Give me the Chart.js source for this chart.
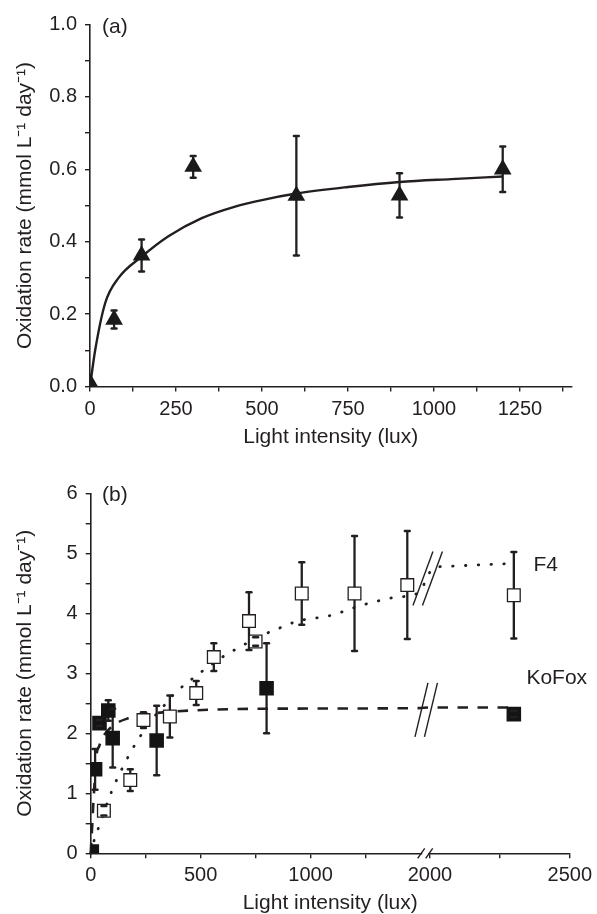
<!DOCTYPE html>
<html><head><meta charset="utf-8">
<script src="https://cdn.jsdelivr.net/npm/chart.js@4.4.0/dist/chart.umd.min.js"></script>
<style>
html,body{margin:0;padding:0;background:#fff;width:597px;height:914px;overflow:hidden}
canvas{position:absolute;left:0;display:block}
#ca{top:0}
#cb{top:457px}
</style></head><body>
<canvas id="ca" width="597" height="457"></canvas>
<canvas id="cb" width="597" height="457"></canvas>
<script>
// ---------- Panel (a) data ----------
const A_LUX  = [0, 70, 150, 300, 600, 900, 1200];
const A_RATE = [0.01, 0.185, 0.362, 0.607, 0.527, 0.528, 0.600];
const A_ERR  = [0, 0.025, 0.044, 0.030, 0.165, 0.061, 0.063];
const A_FIT_LUX  = [0, 15, 44, 83, 152, 228, 325, 422, 500, 600, 750, 900, 1050, 1200];
const A_FIT_RATE = [0, 0.10, 0.23, 0.30, 0.36, 0.415, 0.465, 0.497, 0.515, 0.533, 0.551, 0.565, 0.573, 0.58];
const A_X_TICKS   = [0, 125, 250, 375, 500, 625, 750, 875, 1000, 1125, 1250, 1375];
const A_X_LABELED = [0, 250, 500, 750, 1000, 1250];
const A_Y_TICKS   = [0, 0.1, 0.2, 0.3, 0.4, 0.5, 0.6, 0.7, 0.8, 0.9, 1.0];
const A_Y_LABELED = [0, 0.2, 0.4, 0.6, 0.8, 1.0];

// ---------- Panel (b) data ----------
const F4_LUX  = [60, 180, 240, 360, 480, 560, 720, 750, 960, 1200, 1440, 2300];
const F4_RATE = [0.71, 1.22, 2.22, 2.28, 2.67, 3.27, 3.87, 3.53, 4.33, 4.33, 4.47, 4.30];
const F4_ERR  = [0.08, 0.18, 0.13, 0.35, 0.20, 0.23, 0.48, 0.07, 0.52, 0.96, 0.90, 0.72];
const KOFOX_LUX  = [5, 20, 40, 80, 100, 300, 800, 2300];
const KOFOX_RATE = [0.03, 1.40, 2.17, 2.38, 1.92, 1.88, 2.75, 2.32];
const KOFOX_ERR  = [0, 0.34, 0.05, 0.17, 0.49, 0.58, 0.75, 0.05];
const F4_FIT_LUX  = [0, 16, 35, 95, 120, 175, 208, 283, 329, 381, 495, 603, 660, 720, 750, 826, 879, 932, 1098, 1211, 1324, 1392, 1490, 2012, 2053, 2300];
const F4_FIT_RATE = [0, 0.22, 0.42, 1.03, 1.24, 1.64, 1.85, 2.25, 2.44, 2.66, 3.00, 3.28, 3.40, 3.52, 3.57, 3.71, 3.78, 3.86, 3.97, 4.11, 4.22, 4.27, 4.34, 4.75, 4.78, 4.83];
const KOFOX_FIT_LUX  = [0, 6, 12, 27, 38, 50, 95, 170, 283, 457, 800, 1490, 2000, 2300];
const KOFOX_FIT_RATE = [0, 0.40, 0.83, 1.65, 1.78, 1.90, 2.11, 2.25, 2.33, 2.38, 2.41, 2.42, 2.43, 2.43];
const B_X_TICKS   = [0, 250, 500, 750, 1000, 1250, 2000, 2250, 2500];
const B_X_LABELED = [0, 500, 1000, 2000, 2500];
const B_Y_TICKS   = [0, 0.5, 1, 1.5, 2, 2.5, 3, 3.5, 4, 4.5, 5, 5.5, 6];
const B_Y_LABELED = [0, 1, 2, 3, 4, 5, 6];

// ---------- axis break (panel b): 1500–2000 lux removed ----------
const BREAK_LO = 1500, BREAK_HI = 2000, BREAK_GAP = 43, RIGHT_STRETCH = 1.272;
function bx(v){ return v <= BREAK_LO ? v : BREAK_LO + BREAK_GAP + (v - BREAK_HI) * RIGHT_STRETCH; }
function bxInv(d){ return d <= BREAK_LO + BREAK_GAP / 2 ? d : BREAK_HI + (d - BREAK_LO - BREAK_GAP) / RIGHT_STRETCH; }

const INK = '#231f20';
const FONT = "'Liberation Sans', Arial, Helvetica, sans-serif";
Chart.defaults.font.family = FONT;
Chart.defaults.color = INK;

const has = (arr, v) => arr.some(t => Math.abs(t - v) < 1e-6);
const pts = (xs, ys, f) => xs.map((x, i) => ({x: f ? f(x) : x, y: ys[i]}));

// error bars: stems under the markers, caps on top
function drawErr(chart, caps){
  const {ctx} = chart;
  const ys = chart.scales.y;
  chart.data.datasets.forEach((ds, i) => {
    if (!ds.errors) return;
    const meta = chart.getDatasetMeta(i);
    meta.data.forEach((el, j) => {
      const e = ds.errors[j]; if (!e) return;
      const v = ds.data[j].y;
      const t = ys.getPixelForValue(v + e), b = ys.getPixelForValue(v - e);
      ctx.save();
      ctx.strokeStyle = INK;
      if (!caps){
        ctx.lineWidth = 2.3;
        ctx.beginPath(); ctx.moveTo(el.x, t); ctx.lineTo(el.x, b); ctx.stroke();
      } else {
        ctx.lineWidth = 2.5; ctx.lineCap = 'round';
        [t, b].forEach(yy => { ctx.beginPath(); ctx.moveTo(el.x - 2.4, yy); ctx.lineTo(el.x + 2.4, yy); ctx.stroke(); });
      }
      ctx.restore();
    });
  });
}
const errorBars = {
  id: 'errorBars',
  beforeDatasetsDraw(chart){ drawErr(chart, false); },
  afterDatasetsDraw(chart){ drawErr(chart, true); }
};

const labels = {
  id: 'labels',
  afterDraw(chart, args, opts){
    const {ctx} = chart;
    ctx.save();
    ctx.fillStyle = INK; ctx.textAlign = 'left'; ctx.textBaseline = 'middle';
    (opts.items || []).forEach(it => {
      ctx.font = it.size + 'px ' + FONT;
      let x, y;
      if (it.data){ x = chart.scales.x.getPixelForValue(it.data[0]); y = chart.scales.y.getPixelForValue(it.data[1]); }
      else { x = chart.chartArea.left + it.dx; y = chart.chartArea.top + it.dy; }
      ctx.fillText(it.text, x, y);
    });
    ctx.restore();
  }
};

function axisCommon(){
  return {
    type: 'linear',
    border: {display: true, color: INK, width: 1.6},
    grid: {display: true, drawOnChartArea: false, drawTicks: true, tickLength: 5, color: INK, lineWidth: 1.4},
  };
}

// ---------- Chart (a) ----------
new Chart(document.getElementById('ca'), {
  type: 'scatter',
  data: {
    datasets: [
      {
        data: pts(A_LUX, A_RATE), errors: A_ERR, order: 0, clip: 0,
        pointStyle: 'triangle', pointRadius: 10.2, backgroundColor: '#1a1a1a', borderColor: '#1a1a1a', borderWidth: 0
      },
      {
        data: pts(A_FIT_LUX, A_FIT_RATE), order: 1, showLine: true, pointRadius: 0,
        borderColor: INK, borderWidth: 2.4, cubicInterpolationMode: 'monotone', clip: 2
      }
    ]
  },
  options: {
    responsive: false, animation: false, events: [],
    layout: {padding: {left: 0, right: 25.5, top: 24.5, bottom: 0}},
    plugins: {legend: {display: false}, tooltip: {enabled: false},
      labels: {items: [{text: '(a)', dx: 12, dy: 2.5, size: 21}]}},
    scales: {
      x: Object.assign(axisCommon(), {
        min: 0, max: 1400,
        afterBuildTicks: s => { s.ticks = A_X_TICKS.map(v => ({value: v})); },
        afterFit: s => { s.height = 70.5; },
        ticks: {autoSkip: false, maxRotation: 0, padding: 6, font: {size: 20},
          callback: v => has(A_X_LABELED, v) ? String(v) : ''},
        title: {display: true, text: 'Light intensity (lux)', font: {size: 21, lineHeight: 1}, padding: {top: 0, bottom: 9.5}, color: INK}
      }),
      y: Object.assign(axisCommon(), {
        min: 0, max: 1,
        afterBuildTicks: s => { s.ticks = A_Y_TICKS.map(v => ({value: v})); },
        afterFit: s => { s.width = 90; },
        ticks: {autoSkip: false, padding: 8, font: {size: 20},
          callback: v => has(A_Y_LABELED, v) ? v.toFixed(1) : ''},
        title: {display: true, text: 'Oxidation rate (mmol L\u207B\u00B9 day\u207B\u00B9)', font: {size: 21, lineHeight: 1}, padding: {top: 14.5, bottom: 0}, color: INK}
      })
    }
  },
  plugins: [errorBars, labels]
});

// ---------- Chart (b) ----------
const CURVE_BREAKS = [{rate: 4.58, dx: 20, shift: 2.5}, {rate: 2.39, dx: 13, shift: 1}];
const breakMarks = {
  id: 'breakMarks',
  afterDraw(chart){
    const {ctx, scales: {x, y}} = chart;
    const cx = x.getPixelForValue(BREAK_LO + BREAK_GAP / 2);
    const ay = y.getPixelForValue(0);
    ctx.save();
    ctx.fillStyle = '#fff';
    ctx.fillRect(cx - 3, ay - 2, 6, 4);
    ctx.strokeStyle = INK; ctx.lineWidth = 1.4;
    [-4, 4].forEach(o => { ctx.beginPath(); ctx.moveTo(cx + o - 3.5, ay + 5); ctx.lineTo(cx + o + 3.5, ay - 5); ctx.stroke(); });
    CURVE_BREAKS.forEach(m => {
      const py = y.getPixelForValue(m.rate), c = cx + m.shift;
      [-4.75, 4.75].forEach(o => { ctx.beginPath(); ctx.moveTo(c + o - m.dx / 2, py + 27); ctx.lineTo(c + o + m.dx / 2, py - 27); ctx.stroke(); });
    });
    ctx.restore();
  }
};

new Chart(document.getElementById('cb'), {
  type: 'scatter',
  data: {
    datasets: [
      {
        data: pts(F4_LUX, F4_RATE, bx), errors: F4_ERR, order: 0, clip: 0,
        pointStyle: 'rect', pointRadius: 9, backgroundColor: '#fff', borderColor: INK, borderWidth: 1.3
      },
      {
        data: pts(KOFOX_LUX, KOFOX_RATE, bx), errors: KOFOX_ERR, order: 0, clip: 0,
        pointStyle: 'rect', pointRadius: 10.3, backgroundColor: '#141414', borderColor: '#141414', borderWidth: 0
      },
      {
        data: pts(F4_FIT_LUX, F4_FIT_RATE, bx), order: 2, showLine: true, pointRadius: 0,
        borderColor: INK, borderWidth: 2.8, borderDash: [0.5, 12.3], borderCapStyle: 'round',
        cubicInterpolationMode: 'monotone', clip: 2
      },
      {
        data: pts(KOFOX_FIT_LUX, KOFOX_FIT_RATE, bx), order: 2, showLine: true, pointRadius: 0,
        borderColor: INK, borderWidth: 2.6, borderDash: [10.5, 9.5],
        cubicInterpolationMode: 'monotone', clip: 2
      }
    ]
  },
  options: {
    responsive: false, animation: false, events: [],
    layout: {padding: {left: 0, right: 24.7, top: 36.3, bottom: 0}},
    plugins: {legend: {display: false}, tooltip: {enabled: false},
      labels: {items: [
        {text: '(b)', dx: 11.3, dy: 1.7, size: 21},
        {text: 'F4', data: [bx(2370), 4.8], size: 21},
        {text: 'KoFox', data: [bx(2345), 2.92], size: 21}
      ]}},
    scales: {
      x: Object.assign(axisCommon(), {
        min: 0, max: bx(2500),
        afterBuildTicks: s => { s.ticks = B_X_TICKS.map(v => ({value: bx(v)})); },
        afterFit: s => { s.height = 60.7; },
        ticks: {autoSkip: false, maxRotation: 0, padding: 5, font: {size: 20},
          callback: v => { const l = Math.round(bxInv(v)); return has(B_X_LABELED, l) ? String(l) : ''; }},
        title: {display: true, text: 'Light intensity (lux)', font: {size: 21, lineHeight: 1}, padding: {top: 0, bottom: 0}, color: INK}
      }),
      y: Object.assign(axisCommon(), {
        min: 0, max: 6,
        afterBuildTicks: s => { s.ticks = B_Y_TICKS.map(v => ({value: v})); },
        afterFit: s => { s.width = 90.7; },
        ticks: {autoSkip: false, padding: 8, font: {size: 20},
          callback: v => has(B_Y_LABELED, v) ? String(v) : ''},
        title: {display: true, text: 'Oxidation rate (mmol L\u207B\u00B9 day\u207B\u00B9)', font: {size: 21, lineHeight: 1}, padding: {top: 14.5, bottom: 0}, color: INK}
      })
    }
  },
  plugins: [errorBars, labels, breakMarks]
});
</script>
</body></html>
